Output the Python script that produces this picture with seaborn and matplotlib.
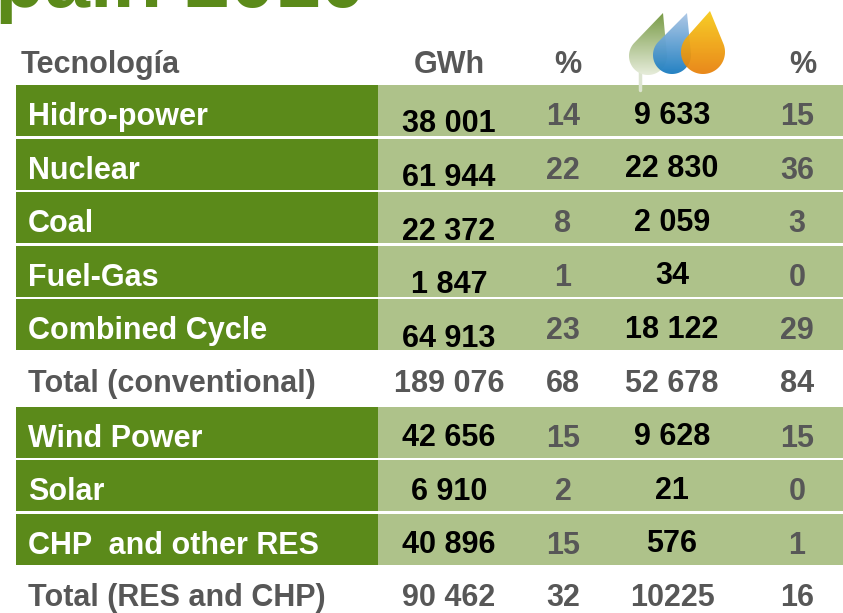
import numpy as np
import pandas as pd
import seaborn as sns
import matplotlib.pyplot as plt
from matplotlib.patches import Polygon
from matplotlib.colors import LinearSegmentedColormap

# datos de la tabla (Spain 2010)
tecnologias = ["Hidro-power", "Nuclear", "Coal", "Fuel-Gas", "Combined Cycle",
               "Total (conventional)", "Wind Power", "Solar", "CHP  and other RES",
               "Total (RES and CHP)"]
gwh_spain = ["38 001", "61 944", "22 372", "1 847", "64 913", "189 076",
             "42 656", "6 910", "40 896", "90 462"]
pct_spain = [14, 22, 8, 1, 23, 68, 15, 2, 15, 32]
gwh_iberdrola = ["9 633", "22 830", "2 059", "34", "18 122", "52 678",
                 "9 628", "21", "576", "10225"]
pct_iberdrola = [15, 36, 3, 0, 29, 84, 15, 0, 1, 16]
es_total = [False, False, False, False, False, True, False, False, False, True]
cabecera = ["Tecnología", "GWh", "%", "%"]
titulo = "Spain 2010"

verde = "#5B8A1A"
verde_claro = "#AEC28A"
gris = "#575757"

sns.set_theme(style="white")
plt.rcParams["font.family"] = ["Liberation Sans", "DejaVu Sans"]

W, H = 843, 613
PITCH = 53.6  # px por fila
Y0 = 110.5    # centro de la primera fila en px


def px(dy):
    return dy / PITCH


fig = plt.figure(figsize=(W / 100, H / 100), dpi=100)
ax = fig.add_axes([0, 0, 1, 1])

filas = np.arange(len(tecnologias))
bandas = pd.DataFrame({"fila": filas[~np.array(es_total)]})
bandas["ancho"] = W - 16
bandas["ancho_label"] = 378 - 16

sns.barplot(data=bandas, x="ancho", y="fila", orient="y", native_scale=True,
            color=verde_claro, saturation=1, width=51 / PITCH, errorbar=None,
            linewidth=0, ax=ax)
sns.barplot(data=bandas, x="ancho_label", y="fila", orient="y", native_scale=True,
            color=verde, saturation=1, width=51 / PITCH, errorbar=None,
            linewidth=0, ax=ax)

ax.set_xlim(-16, W - 16)
ax.set_ylim((H - Y0) / PITCH, -Y0 / PITCH)
ax.axis("off")

fs = 22
x_lab = 28 - 16
x_gwh, x_pct, x_ib, x_pct2 = 449 - 16, 563 - 16, 672 - 16, 797 - 16

# cabecera
yh = px(73 - Y0)
ax.text(21 - 16, yh, cabecera[0], color=gris, fontsize=fs, fontweight="bold", va="baseline")
ax.text(x_gwh, yh, cabecera[1], color=gris, fontsize=fs, fontweight="bold", ha="center", va="baseline")
ax.text(568 - 16, yh, cabecera[2], color=gris, fontsize=fs, fontweight="bold", ha="center", va="baseline")
ax.text(803 - 16, yh, cabecera[3], color=gris, fontsize=fs, fontweight="bold", ha="center", va="baseline")

for i, nombre in enumerate(tecnologias):
    kw = dict(fontsize=fs, fontweight="bold", va="baseline")
    if es_total[i]:
        yb = i + px(13.5)
        ax.text(x_lab, yb, nombre, color=gris, **kw)
        ax.text(x_gwh, yb, gwh_spain[i], color=gris, ha="center", **kw)
        ax.text(x_pct, yb, str(pct_spain[i]), color=gris, ha="center", **kw)
        ax.text(x_ib, yb, gwh_iberdrola[i], color=gris, ha="center", **kw)
        ax.text(x_pct2, yb, str(pct_iberdrola[i]), color=gris, ha="center", **kw)
    else:
        bajada = 22 if i < 5 else 14
        ax.text(x_lab, i + px(14.5), nombre, color="white", **kw)
        ax.text(x_gwh, i + px(bajada), gwh_spain[i], color="black", ha="center", **kw)
        ax.text(x_pct, i + px(14.5), str(pct_spain[i]), color=gris, ha="center", **kw)
        ax.text(x_ib, i + px(13), gwh_iberdrola[i], color="black", ha="center", **kw)
        ax.text(x_pct2, i + px(14.5), str(pct_iberdrola[i]), color=gris, ha="center", **kw)

# titulo recortado arriba
ax.text(366 - 16, px(7 - Y0), titulo, color=verde, fontsize=58.5, fontweight="bold",
        ha="right", va="baseline")

# logo (hoja + dos gotas)
lx0, ly0, lw, lh = 618, 4, 115, 92
lax = fig.add_axes([lx0 / W, 1 - (ly0 + lh) / H, lw / W, lh / H])
lax.set_xlim(lx0, lx0 + lw)
lax.set_ylim(ly0 + lh, ly0)
lax.axis("off")
lax.patch.set_alpha(0)


def gota(punta, centro, r, c_arriba, c_abajo, alpha=1.0, z=2):
    punta = np.array(punta, float)
    centro = np.array(centro, float)
    d = punta - centro
    L = np.hypot(*d)
    a_up = np.arctan2(d[1], d[0])
    al = np.arccos(r / L)
    t = np.linspace(a_up + al, a_up + 2 * np.pi - al, 80)
    pts = np.column_stack([centro[0] + r * np.cos(t), centro[1] + r * np.sin(t)])
    poly = np.vstack([punta, pts])
    patch = Polygon(poly, closed=True, facecolor="none", edgecolor="none")
    lax.add_patch(patch)
    xmin, ymin = poly.min(axis=0)
    xmax, ymax = poly.max(axis=0)
    cmap = LinearSegmentedColormap.from_list("g", [c_arriba, c_abajo])
    grad = np.linspace(0, 1, 100)[:, None] * np.ones((1, 10))
    im = lax.imshow(grad, cmap=cmap, extent=(xmin, xmax, ymax, ymin),
                    origin="upper", aspect="auto", alpha=alpha, zorder=z)
    im.set_clip_path(patch)


lax.plot([640, 640], [65, 90], color="#DCE4D0", lw=2.5, zorder=1)
gota((663, 13), (648, 56), 19, "#7A9C48", "#E6ECDA", z=2)
gota((687, 13), (672, 55), 19, "#A9C5E5", "#1A7CC0", alpha=0.95, z=3)
gota((710, 11), (703, 52), 22, "#F7CA16", "#E8800A", alpha=0.93, z=4)

plt.savefig("out.png", dpi=100)
